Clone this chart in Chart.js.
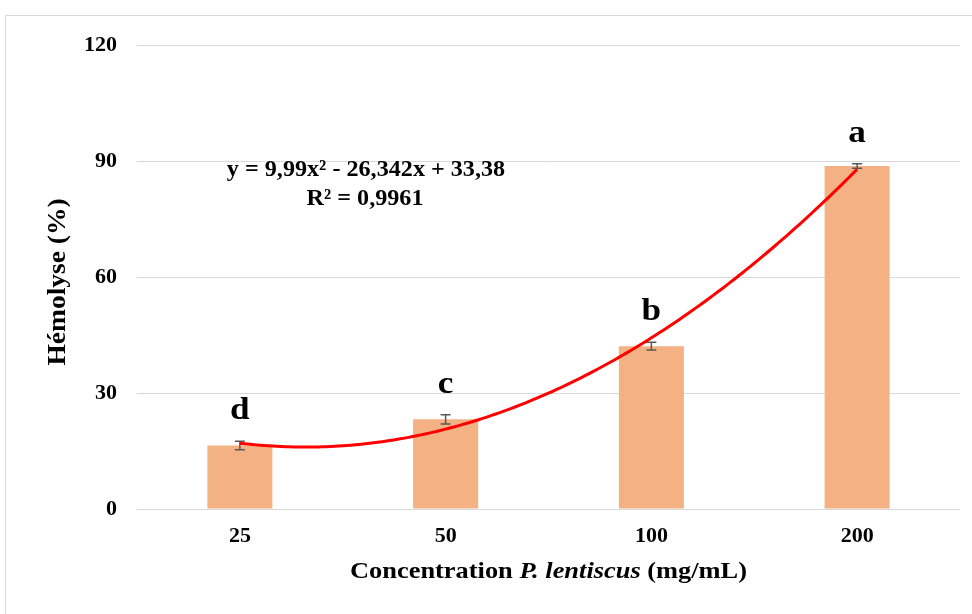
<!DOCTYPE html>
<html>
<head>
<meta charset="utf-8">
<script src="https://cdn.jsdelivr.net/npm/chart.js@4.4.0/dist/chart.umd.min.js"></script>
<style>
  html, body { margin: 0; padding: 0; background: #fff; overflow: hidden; }
  #wrap { position: relative; width: 972px; height: 614px; overflow: hidden; }
  #frame { position: absolute; left: 5px; top: 15px; width: 1000px; height: 700px; border: 1px solid #d9d9d9; }
  canvas { position: absolute; left: 0; top: 0; }
</style>
</head>
<body>
<div id="wrap">
  <div id="frame"></div>
  <canvas id="hemoCanvas" width="972" height="614"></canvas>
</div>
<script>
var concentrations = ['25', '50', '100', '200'];
var hemolyse = [16.4, 23.2, 42.1, 88.7];
var errors = [1.1, 1.2, 1.0, 0.6];
var letters = ['d', 'c', 'b', 'a'];
var yTicks = [0, 30, 60, 90, 120];

// courbe de tendance polynomiale d'ordre 2 : y = a x² + b x + c (x = rang 1..4)
var trendCoef = [9.99, -26.342, 33.38];
var trendText = ['y = 9,99x² - 26,342x + 33,38', 'R² = 0,9961'];

var serif = '"Liberation Serif", "Times New Roman", serif';

function stretchText(ctx, text, x, y, sx) {
    ctx.save();
    ctx.translate(x, y);
    ctx.scale(sx, 1);
    ctx.fillText(text, 0, 0);
    ctx.restore();
}

var extras = {
    id: 'extras',
    afterDatasetsDraw: function(chart) {
        var ctx = chart.ctx;
        var xs = chart.scales.x;
        var ys = chart.scales.y;
        var area = chart.chartArea;

        ctx.save();

        // barres d'erreur
        ctx.strokeStyle = '#595959';
        ctx.lineWidth = 1.5;
        for (var i = 0; i < hemolyse.length; i++) {
            var px = xs.getPixelForValue(i);
            var top = ys.getPixelForValue(hemolyse[i] + errors[i]);
            var bot = ys.getPixelForValue(hemolyse[i] - errors[i]);
            ctx.beginPath();
            ctx.moveTo(px, top); ctx.lineTo(px, bot);
            ctx.moveTo(px - 5, top); ctx.lineTo(px + 5, top);
            ctx.moveTo(px - 5, bot); ctx.lineTo(px + 5, bot);
            ctx.stroke();
        }

        // tendance
        var p0 = xs.getPixelForValue(0);
        var step = xs.getPixelForValue(1) - p0;
        ctx.strokeStyle = '#ff0000';
        ctx.lineWidth = 3;
        ctx.lineJoin = 'round';
        ctx.beginPath();
        for (var t = 1; t <= hemolyse.length + 1e-9; t += 0.02) {
            var v = trendCoef[0] * t * t + trendCoef[1] * t + trendCoef[2];
            var tx = p0 + (t - 1) * step;
            var ty = ys.getPixelForValue(v);
            if (t === 1) ctx.moveTo(tx, ty); else ctx.lineTo(tx, ty);
        }
        ctx.stroke();

        // lettres de significativité
        ctx.fillStyle = '#000';
        ctx.textAlign = 'center';
        ctx.textBaseline = 'alphabetic';
        ctx.font = 'bold 32px ' + serif;
        for (var j = 0; j < letters.length; j++) {
            var lx = xs.getPixelForValue(j);
            var ly = ys.getPixelForValue(hemolyse[j] + errors[j]) - 22;
            stretchText(ctx, letters[j], lx, ly, 1.1);
        }

        // équation et R²
        ctx.font = 'bold 23px ' + serif;
        stretchText(ctx, trendText[0], area.left + 229, 176, 1.05);
        stretchText(ctx, trendText[1], area.left + 228, 205, 1.05);

        // titre de l'axe des x (nom d'espèce en italique)
        var parts = [
            { t: 'Concentration ', f: 'bold 24px ' + serif },
            { t: 'P. lentiscus', f: 'italic bold 24px ' + serif },
            { t: ' (mg/mL)', f: 'bold 24px ' + serif }
        ];
        var sx = 1.1;
        var total = 0;
        parts.forEach(function(p) { ctx.font = p.f; p.w = ctx.measureText(p.t).width; total += p.w; });
        var cx = (area.left + area.right) / 2 - total * sx / 2;
        ctx.textAlign = 'left';
        parts.forEach(function(p) {
            ctx.font = p.f;
            stretchText(ctx, p.t, cx, 578, sx);
            cx += p.w * sx;
        });

        // titre de l'axe des y
        ctx.save();
        ctx.translate(59, (area.top + area.bottom) / 2 + 5);
        ctx.rotate(-Math.PI / 2);
        ctx.scale(1.1, 1);
        ctx.font = 'bold 25px ' + serif;
        ctx.textAlign = 'center';
        ctx.textBaseline = 'middle';
        ctx.fillText('Hémolyse (%)', 0, 0);
        ctx.restore();

        ctx.restore();
    }
};

var myChart = new Chart(document.getElementById('hemoCanvas'), {
    type: 'bar',
    data: {
        labels: concentrations,
        datasets: [{
            data: hemolyse,
            backgroundColor: '#f4b183',
            barPercentage: 0.316,
            categoryPercentage: 1
        }]
    },
    options: {
        responsive: false,
        animation: false,
        layout: { padding: { left: 0, right: 12, top: 45, bottom: 0 } },
        plugins: {
            legend: { display: false },
            tooltip: { enabled: false }
        },
        scales: {
            x: {
                grid: { display: false },
                border: { display: false },
                ticks: {
                    color: '#000',
                    padding: 6,
                    font: { family: serif, size: 22, weight: 'bold' }
                },
                afterFit: function(scale) { scale.height = 105; }
            },
            y: {
                min: 0,
                max: 120,
                afterBuildTicks: function(scale) {
                    scale.ticks = yTicks.map(function(v) { return { value: v }; });
                },
                grid: { color: '#d9d9d9', lineWidth: 1, drawTicks: false },
                border: { display: false },
                ticks: {
                    color: '#000',
                    padding: 20,
                    font: { family: serif, size: 22, weight: 'bold' }
                },
                afterFit: function(scale) { scale.width = 137; }
            }
        }
    },
    plugins: [extras]
});
</script>
</body>
</html>
